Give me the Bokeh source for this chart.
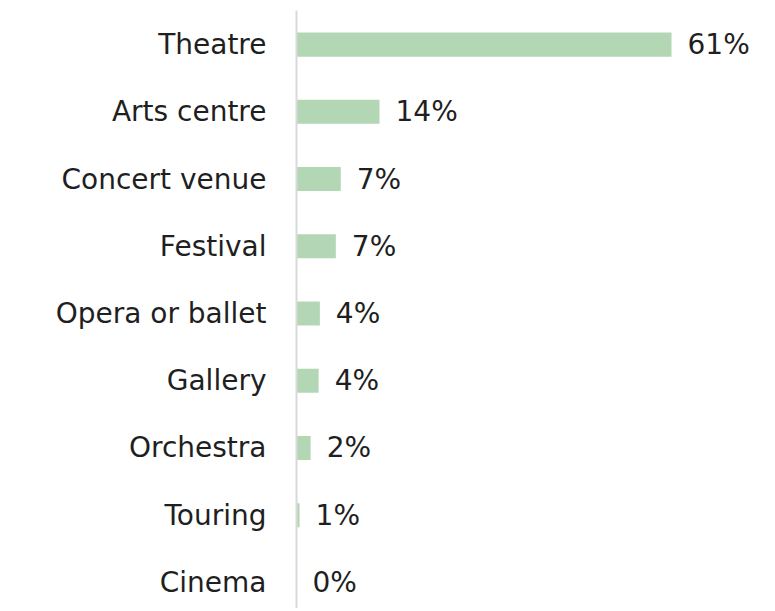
from bokeh.plotting import figure
from bokeh.models import Range1d, FixedTicker, ColumnDataSource
from bokeh.core.properties import value
from bokeh.embed import file_html
from bokeh.resources import INLINE

categories = ["Theatre", "Arts centre", "Concert venue", "Festival", "Opera or ballet",
              "Gallery", "Orchestra", "Touring", "Cinema"]
shares = [61.0, 13.5, 7.2, 6.4, 3.8, 3.6, 2.3, 0.5, 0.0]
share_labels = ["61%", "14%", "7%", "7%", "4%", "4%", "2%", "1%", "0%"]

FONT = "DejaVu Sans"
idx = list(range(len(categories)))
src = ColumnDataSource(dict(y=idx, v=shares, lab=share_labels))

p = figure(width=770, height=608, output_backend="svg", toolbar_location=None,
           x_range=Range1d(0, 77.1), y_range=Range1d(8.387, -0.506),
           min_border_left=296, min_border_right=0, min_border_top=10, min_border_bottom=0)
p.outline_line_color = None
p.background_fill_color = "white"
p.border_fill_color = "white"
p.xgrid.visible = False
p.ygrid.visible = False
p.xaxis.visible = False

p.hbar(y="y", left=0, right="v", height=0.36, source=src,
       fill_color="#b3d7b5", line_color=None)
p.text(x="v", y="y", text="lab", source=src, x_offset=16,
       text_baseline="middle", text_align="left",
       text_font=value(FONT), text_font_size="28px", text_color="#1f1f1f")

ya = p.yaxis[0]
ya.ticker = FixedTicker(ticks=idx)
ya.major_label_overrides = {i: c for i, c in zip(idx, categories)}
ya.major_tick_line_color = None
ya.minor_tick_line_color = None
ya.axis_line_color = "#d9d9d9"
ya.axis_line_width = 2
ya.major_label_standoff = 24
ya.major_label_text_font = FONT
ya.major_label_text_font_size = "28px"
ya.major_label_text_color = "#1f1f1f"
ya.major_label_text_font_style = "normal"

open("out.html", "w").write(file_html(p, INLINE))
